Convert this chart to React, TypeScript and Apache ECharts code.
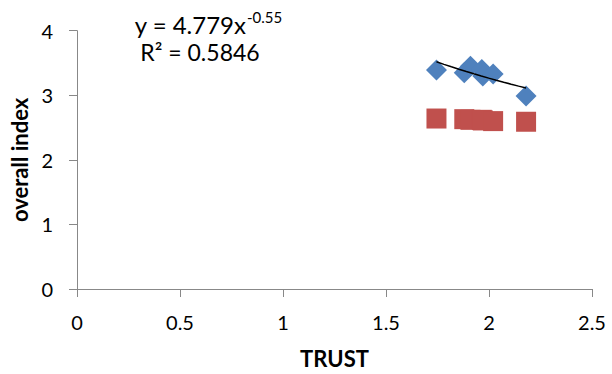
import React, { useEffect, useRef } from "react";
import * as echarts from "echarts";

const trustBlue = [1.745, 1.88, 1.91, 1.965, 1.97, 2.02, 2.18];
const indexBlue = [3.39, 3.35, 3.45, 3.4, 3.3, 3.33, 2.99];
const trustRed = [1.745, 1.88, 1.91, 1.965, 1.97, 2.02, 2.18];
const indexRed = [2.64, 2.63, 2.62, 2.62, 2.61, 2.6, 2.59];
const fitA = 4.779;
const fitB = -0.55;
const xTicks = [0, 0.5, 1, 1.5, 2, 2.5];
const yTicks = [0, 1, 2, 3, 4];

const FONT = "Lato, Carlito, 'Liberation Sans', sans-serif";

export default function App() {
  const ref = useRef<HTMLDivElement>(null);
  useEffect(() => {
    if (!ref.current) return;
    const chart = echarts.init(ref.current, undefined, { renderer: "svg" });
    const xmin = Math.min(...trustBlue);
    const xmax = Math.max(...trustBlue);
    const trend: number[][] = [];
    const n = 12;
    for (let i = 0; i <= n; i++) {
      const x = xmin + ((xmax - xmin) * i) / n;
      trend.push([x, fitA * Math.pow(x, fitB)]);
    }
    const axisColor = "#888888";
    chart.setOption({
      animation: false,
      backgroundColor: "#ffffff",
      grid: { left: 77, right: 20, top: 30.7, bottom: 82.3 },
      xAxis: {
        type: "value",
        min: xTicks[0],
        max: xTicks[xTicks.length - 1],
        interval: 0.5,
        name: "TRUST",
        nameLocation: "middle",
        nameGap: 58,
        nameTextStyle: { fontFamily: FONT, fontSize: 22, fontWeight: "bold", color: "#000" },
        axisLine: { onZero: false, lineStyle: { color: axisColor, width: 1 } },
        axisTick: { show: true, length: 8, lineStyle: { color: axisColor } },
        splitLine: { show: false },
        axisLabel: { fontFamily: FONT, fontSize: 20, color: "#000", margin: 23 },
      },
      yAxis: {
        type: "value",
        min: yTicks[0],
        max: yTicks[yTicks.length - 1],
        interval: 1,
        name: "overall index",
        nameLocation: "middle",
        nameGap: 47,
        nameTextStyle: { fontFamily: FONT, fontSize: 22, fontWeight: "bold", color: "#000" },
        axisLine: { show: true, onZero: false, lineStyle: { color: axisColor, width: 1 } },
        axisTick: { show: true, length: 8, lineStyle: { color: axisColor } },
        splitLine: { show: false },
        axisLabel: { fontFamily: FONT, fontSize: 20, color: "#000", margin: 24 },
      },
      series: [
        {
          type: "scatter",
          symbol: "rect",
          symbolSize: 20,
          itemStyle: { color: "#C0504D", opacity: 1 },
          data: trustRed.map((x, i) => [x, indexRed[i]]),
        },
        {
          type: "scatter",
          symbol: "diamond",
          symbolSize: 21,
          itemStyle: { color: "#4F81BD", opacity: 1 },
          data: trustBlue.map((x, i) => [x, indexBlue[i]]),
        },
        {
          type: "line",
          showSymbol: false,
          symbol: "none",
          lineStyle: { color: "#000", width: 1.5 },
          data: trend,
          z: 5,
        },
      ],
      graphic: [
        {
          type: "text",
          x: 246,
          y: 24,
          style: {
            text: "y = 4.779x",
            font: `24px ${FONT}`,
            fill: "#000",
            align: "right",
            verticalAlign: "middle",
          },
        },
        {
          type: "text",
          x: 247,
          y: 17,
          style: {
            text: "-0.55",
            font: `15px ${FONT}`,
            fill: "#000",
            align: "left",
            verticalAlign: "middle",
          },
        },
        {
          type: "text",
          x: 200,
          y: 52,
          style: {
            text: "R² = 0.5846",
            font: `23px ${FONT}`,
            fill: "#000",
            align: "center",
            verticalAlign: "middle",
          },
        },
      ],
    });
    return () => chart.dispose();
  }, []);
  return (
    <div
      ref={ref}
      style={{ position: "fixed", left: 0, top: 0, width: 612, height: 374, background: "#fff" }}
    />
  );
}
